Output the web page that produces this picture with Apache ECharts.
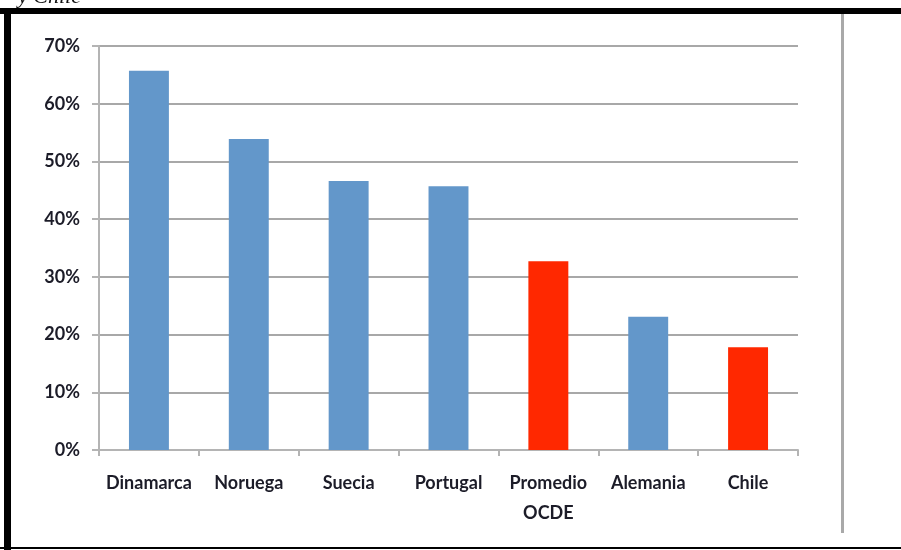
<!DOCTYPE html>
<html>
<head>
<meta charset="utf-8">
<script src="https://cdn.jsdelivr.net/npm/echarts@6/dist/echarts.min.js"></script>
<style>
  html, body { margin: 0; padding: 0; background: #fff; }
  #chart { width: 901px; height: 550px; }
</style>
</head>
<body>
<div id="chart"></div>
<script>
// Share by country (fraction, shown as percent)
const categories = ['Dinamarca', 'Noruega', 'Suecia', 'Portugal', 'Promedio\nOCDE', 'Alemania', 'Chile'];
const values = [0.657, 0.539, 0.466, 0.457, 0.327, 0.231, 0.178];
// Highlighted bars (OECD average and Chile)
const highlighted = [false, false, false, false, true, false, true];
const yTicks = { min: 0, max: 0.7, interval: 0.1 };

const BLUE = '#6397CA';
const RED = '#FF2800';
const labelFont = 'Lato, "Open Sans", sans-serif';
const labelColor = '#1c1c28';

const chart = echarts.init(document.getElementById('chart'), null, { renderer: 'canvas' });

chart.setOption({
  animation: false,
  backgroundColor: '#ffffff',
  grid: { left: 99, right: 103, top: 46, bottom: 100, containLabel: false },
  xAxis: {
    type: 'category',
    data: categories,
    axisLine: { show: true, lineStyle: { color: '#b4b4b4', width: 2 } },
    axisTick: { show: true, alignWithLabel: false, length: 6, lineStyle: { color: '#b4b4b4', width: 2 } },
    axisLabel: {
      margin: 18, color: labelColor, fontSize: 18, fontWeight: 'bold', fontFamily: labelFont,
      lineHeight: 30, interval: 0
    }
  },
  yAxis: {
    type: 'value',
    min: yTicks.min, max: yTicks.max, interval: yTicks.interval,
    axisLine: { show: true, lineStyle: { color: '#b4b4b4', width: 2 } },
    axisTick: { show: true, length: 7, lineStyle: { color: '#b4b4b4', width: 2 } },
    splitLine: { show: true, lineStyle: { color: '#a8a8a8', width: 2 } },
    axisLabel: {
      margin: 19, color: labelColor, fontSize: 18, fontWeight: 'bold', fontFamily: labelFont,
      formatter: v => Math.round(v * 100) + '%'
    }
  },
  series: [{
    type: 'bar',
    barWidth: '40%',
    data: values.map((v, i) => ({
      value: v,
      itemStyle: { color: highlighted[i] ? RED : BLUE }
    }))
  }],
  graphic: [
    // caption fragment above the frame
    { type: 'text', left: 18, top: -14, z: 10,
      style: { text: 'y Chile', font: 'italic 22px "Liberation Serif", serif', fill: '#111' } },
    // frame around the figure
    { type: 'rect', shape: { x: 0, y: 8, width: 901, height: 6 }, style: { fill: '#000' } },
    { type: 'rect', shape: { x: 4, y: 8, width: 7, height: 542 }, style: { fill: '#000' } },
    { type: 'rect', shape: { x: 0, y: 547, width: 901, height: 2 }, style: { fill: '#000' } },
    { type: 'rect', shape: { x: 841, y: 14, width: 3, height: 519 }, style: { fill: '#a9a9a9' } }
  ]
});
</script>
</body>
</html>
